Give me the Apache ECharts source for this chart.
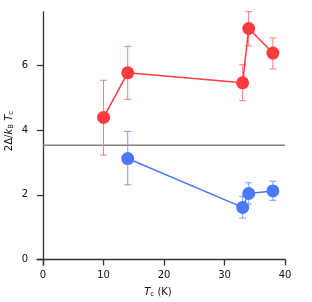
<!DOCTYPE html>
<html><head><meta charset="utf-8">
<script src="https://cdn.jsdelivr.net/npm/echarts@6/dist/echarts.min.js"></script>
<style>html,body{margin:0;padding:0;background:#fff}#c{width:312px;height:302px}</style>
</head><body><div id="c"></div>
<script>
// Data
const redTc   = [10, 14, 33, 34, 38];
const redVal  = [4.39, 5.77, 5.46, 7.14, 6.38];
const redLo   = [3.23, 4.95, 4.91, 6.60, 5.89];
const redHi   = [5.54, 6.59, 6.02, 7.66, 6.85];
const blueTc  = [14, 33, 34, 38];
const blueVal = [3.12, 1.61, 2.04, 2.12];
const blueLo  = [2.31, 1.28, 1.71, 1.83];
const blueHi  = [3.96, 1.95, 2.37, 2.42];
const bcsX    = [0, 40];
const bcsY    = [3.53, 3.53];
const xTicks  = [0, 10, 20, 30, 40];
const yTicks  = [0, 2, 4, 6];

const RED = '#ff3b3f', RED_ERR = '#ff7a7d';
const BLUE = '#4a78ff', BLUE_ERR = '#7d9dff';
const FONT = 'DejaVu Sans';

function errSeries(xs, lo, hi, color) {
  return {
    type: 'custom', z: 1,
    data: xs.map((x, i) => [x, lo[i], hi[i]]),
    renderItem: function (params, api) {
      const a = api.coord([api.value(0), api.value(1)]);
      const b = api.coord([api.value(0), api.value(2)]);
      const w = 3.5;
      const st = { stroke: color, lineWidth: 1 };
      return { type: 'group', children: [
        { type: 'line', shape: { x1: a[0], y1: a[1], x2: b[0], y2: b[1] }, style: st },
        { type: 'line', shape: { x1: a[0] - w, y1: a[1], x2: a[0] + w, y2: a[1] }, style: st },
        { type: 'line', shape: { x1: b[0] - w, y1: b[1], x2: b[0] + w, y2: b[1] }, style: st }
      ]};
    },
    encode: { x: 0, y: [1, 2] },
    silent: true
  };
}

const richSub = {
  i: { fontStyle: 'italic', fontSize: 10, fontFamily: FONT, fill: '#111' },
  s: { fontSize: 7, fontFamily: FONT, verticalAlign: 'bottom', padding: [5, 0, 0, 0], fill: '#111' }
};

const chart = echarts.init(document.getElementById('c'), null, { renderer: 'canvas' });
chart.setOption({
  animation: false,
  backgroundColor: '#fff',
  grid: { left: 37, right: 27, top: 12, bottom: 37 },
  xAxis: {
    type: 'value', min: -1, max: 40,
    splitLine: { show: false },
    axisLine: { lineStyle: { color: '#333', width: 1.3 } },
    axisTick: { show: true, length: 6, lineStyle: { color: '#333', width: 1.3 }, customValues: xTicks },
    axisLabel: { color: '#111', fontSize: 10, fontFamily: FONT, margin: 5, customValues: xTicks }
  },
  yAxis: {
    type: 'value', min: -0.17, max: 7.65,
    splitLine: { show: false },
    axisLine: { show: true, lineStyle: { color: '#333', width: 1.3 } },
    axisTick: { show: true, length: 6, lineStyle: { color: '#333', width: 1.3 }, customValues: yTicks },
    axisLabel: { color: '#111', fontSize: 10, fontFamily: FONT, margin: 9, customValues: yTicks }
  },
  graphic: [
    {
      type: 'text',
      x: 9, y: 131, rotation: Math.PI / 2,
      style: {
        text: '2Δ/{i|k}{s|B}{i| T}{s|c}',
        align: 'center', verticalAlign: 'middle',
        fontSize: 10, fontFamily: FONT, fill: '#111',
        rich: richSub
      }
    },
    {
      type: 'text', x: 158, y: 292,
      style: {
        text: '{i|T}{s|c} (K)',
        align: 'center', verticalAlign: 'middle',
        fontSize: 10, fontFamily: FONT, fill: '#111',
        rich: richSub
      }
    }
  ],
  series: [
    {
      type: 'line', z: 0, data: bcsX.map((x, i) => [x, bcsY[i]]),
      symbol: 'none', lineStyle: { color: '#808080', width: 1.6 }, silent: true
    },
    errSeries(redTc, redLo, redHi, RED_ERR),
    errSeries(blueTc, blueLo, blueHi, BLUE_ERR),
    {
      type: 'line', z: 3, data: redTc.map((x, i) => [x, redVal[i]]),
      symbol: 'circle', symbolSize: 13,
      itemStyle: { color: RED }, lineStyle: { color: RED, width: 1.5 }
    },
    {
      type: 'line', z: 3, data: blueTc.map((x, i) => [x, blueVal[i]]),
      symbol: 'circle', symbolSize: 13,
      itemStyle: { color: BLUE }, lineStyle: { color: BLUE, width: 1.5 }
    }
  ]
});
</script>
</body></html>
